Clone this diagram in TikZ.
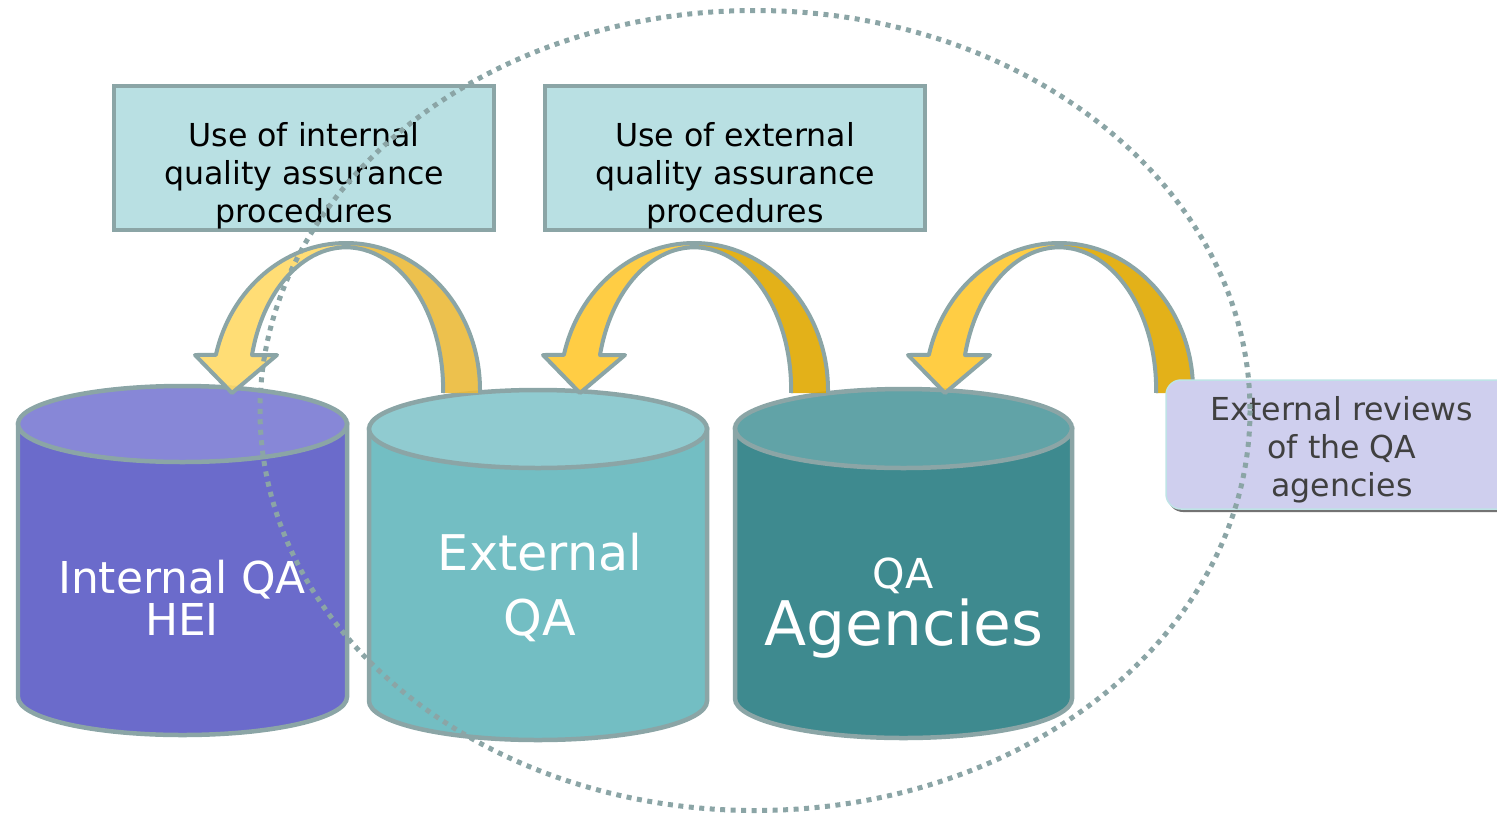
\documentclass[tikz,border=0pt]{standalone}
\usepackage{fontspec}
\setmainfont{DejaVu Sans}
\usepackage{xcolor}

\definecolor{edgegray}{HTML}{8BA5A6}
\definecolor{boxfill}{HTML}{B9E0E3}
\definecolor{hei}{HTML}{6B6BCB}
\definecolor{heitop}{HTML}{8787D7}
\definecolor{ext}{HTML}{73BEC3}
\definecolor{exttop}{HTML}{90CBD0}
\definecolor{agency}{HTML}{3E8A8F}
\definecolor{agencytop}{HTML}{61A3A7}
\definecolor{review}{HTML}{CFCFEE}
\definecolor{reviewedge}{HTML}{BFE3E6}
\definecolor{palegold}{HTML}{FFD966}
\definecolor{midgold}{HTML}{EBBA3A}
\definecolor{lightgold}{HTML}{FFC830}
\definecolor{darkgold}{HTML}{E0A800}
\definecolor{textgray}{HTML}{404040}

\begin{document}
\begin{tikzpicture}[x=0.02cm, y=-0.02cm,
    qabox/.style = {draw = edgegray, fill = boxfill, line width = 0.08cm,
      minimum width = 7.6cm, minimum height = 2.88cm, inner sep = 0pt},
    boxtext/.style = {align = center, font = \fontsize{18}{21.5}\selectfont},
    cyledge/.style = {draw = edgegray, line width = 0.09cm},
    cyltext/.style = {text = white, align = center},
    arcline/.style = {draw = edgegray, line width = 0.08cm, line join = round},
    ringdots/.style = {draw = edgegray, line width = 0.1cm,
      dash pattern = on 0.1cm off 0.11cm}
  ]
  \useasboundingbox (0, 0) rectangle (1497, 815);
  \clip (0, 0) rectangle (1497, 815);

  % the three cylinders
  {
    \filldraw[cyledge, fill = hei] (18, 424) -- (18, 697)
      arc[start angle = 180, end angle = 0, x radius = 164.5, y radius = 38] -- (347, 424) -- cycle;
    \filldraw[cyledge, fill = heitop] (182.5, 424) ellipse[x radius = 164.5, y radius = 38];
  }
  {
    \filldraw[cyledge, fill = ext] (369, 429) -- (369, 701)
      arc[start angle = 180, end angle = 0, x radius = 169, y radius = 39] -- (707, 429) -- cycle;
    \filldraw[cyledge, fill = exttop] (538, 429) ellipse[x radius = 169, y radius = 39];
  }
  {
    \filldraw[cyledge, fill = agency] (735, 428.5) -- (735, 698.5)
      arc[start angle = 180, end angle = 0, x radius = 168.5, y radius = 39.5] -- (1072, 428.5) -- cycle;
    \filldraw[cyledge, fill = agencytop] (903.5, 428.5) ellipse[x radius = 168.5, y radius = 39.5];
  }
  \node[cyltext, font = \fontsize{25}{24}\selectfont] (hei) at (182, 598) {Internal QA\\HEI};
  \node[cyltext, font = \fontsize{28}{37}\selectfont] (extqa) at (540, 587) {External\\QA};
  \node[cyltext, font = \fontsize{23.5}{28}\selectfont, anchor = base] (qa) at (903, 588) {QA};
  \node[cyltext, font = \fontsize{35}{40}\selectfont, anchor = base] (agencies) at (904, 645) {Agencies};

  % the two procedure boxes
  \node[qabox] (useint) at (304, 158) {};
  \node[boxtext] (useinttext) at ([yshift = -0.36cm]useint.center) {Use of internal\\quality assurance\\procedures};
  \node[qabox] (useext) at (735, 158) {};
  \node[boxtext] (useexttext) at ([yshift = -0.36cm]useext.center) {Use of external\\quality assurance\\procedures};

  % curved arrows
  \foreach \s/\lc/\rc in {0/palegold/midgold, 348/lightgold/darkgold, 713/lightgold/darkgold}{
    \begin{scope}[shift = {(\s, 0)}]
      \fill[\lc, fill opacity = 0.9] (346, 243)
        arc[start angle = -90, end angle = -166.2, x radius = 134, y radius = 147]
        -- (195, 355) -- (232, 393) -- (277, 355) -- (252, 355)
        arc[start angle = -166, end angle = -90, x radius = 97, y radius = 142] -- cycle;
      \fill[\rc, fill opacity = 0.9] (346, 243)
        arc[start angle = -90, end angle = 0, x radius = 134, y radius = 147]
        -- (480, 393) -- (443, 393) -- (443, 390)
        arc[start angle = 0, end angle = -90, x radius = 97, y radius = 142] -- cycle;
      \draw[arcline] (480, 393) -- (480, 390)
        arc[start angle = 0, end angle = -166.2, x radius = 134, y radius = 147]
        -- (195, 355) -- (232, 393) -- (277, 355) -- (252, 355)
        arc[start angle = -166, end angle = 0, x radius = 97, y radius = 142] -- (443, 393);
    \end{scope}
  }

  % box on the right
  \fill[black!55, rounded corners = 0.3cm] (1168, 383) rectangle (1540, 512);
  \filldraw[draw = reviewedge, fill = review, line width = 0.03cm, rounded corners = 0.3cm]
    (1166, 380) rectangle (1540, 509);
  \node[align = center, text = textgray, font = \fontsize{18}{21.5}\selectfont] (reviews) at (1342, 450)
    {External reviews\\of the QA\\agencies};

  % dotted ring
  \draw[ringdots] (755, 410.5) ellipse[x radius = 495, y radius = 400];
\end{tikzpicture}
\end{document}
